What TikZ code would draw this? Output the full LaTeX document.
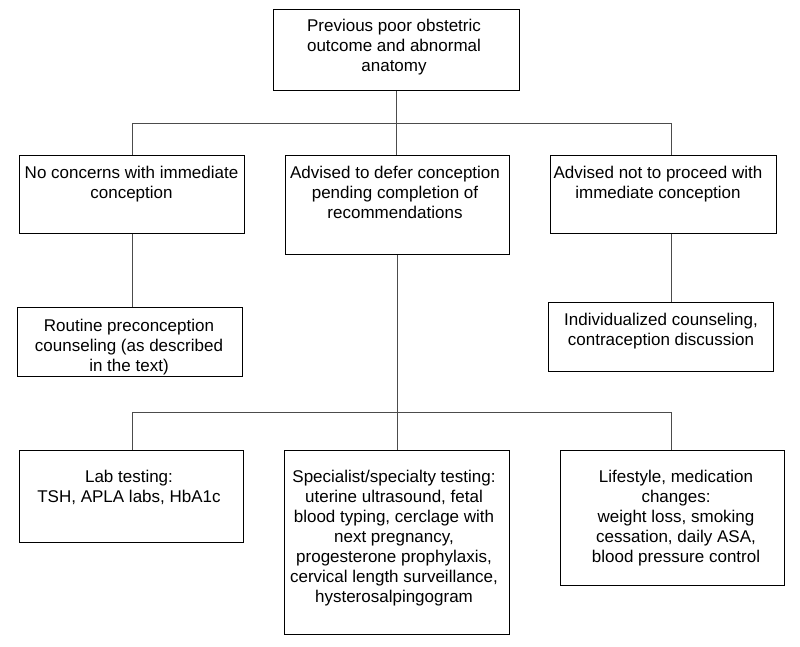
\documentclass[tikz,border=0pt]{standalone}
\usepackage{fontspec}
\setmainfont{Liberation Sans}
\begin{document}
\begin{tikzpicture}[x=1pt,y=-1pt,
  box/.style={draw=black,line width=1.4pt,inner sep=0pt,anchor=north west,fill=none},
  txt/.style={align=center,inner sep=0pt,anchor=north,font=\fontsize{17}{20}\selectfont},
  conn/.style={draw=black!70,line width=1pt}]
\useasboundingbox (0,0) rectangle (800,646);
% boxes
\node[box,minimum width=246pt,minimum height=81pt] (top) at (273,9) {};
\node[box,minimum width=225pt,minimum height=78pt] (b1) at (19,155) {};
\node[box,minimum width=224pt,minimum height=99pt] (b2) at (285,155) {};
\node[box,minimum width=226pt,minimum height=78pt] (b3) at (550,155) {};
\node[box,minimum width=225pt,minimum height=69pt] (r1) at (17,307) {};
\node[box,minimum width=225pt,minimum height=69pt] (r3) at (548,302) {};
\node[box,minimum width=224pt,minimum height=92pt] (c1) at (19,450) {};
\node[box,minimum width=225pt,minimum height=184pt] (c2) at (284,450) {};
\node[box,minimum width=224pt,minimum height=135pt] (c3) at (560,450) {};
% texts
\node[txt] (ttop) at (394,18.7) {Previous poor obstetric\\outcome and abnormal\\anatomy};
\node[txt] (tb1) at (131.5,165.7) {No concerns with immediate\\conception};
\node[txt] (tb2) at (395,165.7) {Advised to defer conception\\pending completion of\\recommendations};
\node[txt] (tb3) at (658,165.7) {Advised not to proceed with\\immediate conception};
\node[txt] (tr1) at (129,318.7) {Routine preconception\\counseling (as described\\in the text)};
\node[txt] (tr3) at (661,312.7) {Individualized counseling,\\contraception discussion};
\node[txt] (tc1) at (129,469.7) {Lab testing:\\TSH, APLA labs, HbA1c};
\node[txt] (tc2) at (394,469.7) {Specialist/specialty testing:\\uterine ultrasound, fetal\\blood typing, cerclage with\\next pregnancy,\\progesterone prophylaxis,\\cervical length surveillance,\\hysterosalpingogram};
\node[txt] (tc3) at (676,469.7) {Lifestyle, medication\\changes:\\weight loss, smoking\\cessation, daily ASA,\\blood pressure control};
% connectors
\coordinate (hL) at (132,123);
\coordinate (hR) at (671,123);
\coordinate (gL) at (132,412);
\coordinate (gR) at (671,412);
\draw[conn] (hL) -- (hR);
\draw[conn] (top.south) -- (top.south |- b2.north);
\draw[conn] (hL) -- (hL |- b1.north);
\draw[conn] (hR) -- (hR |- b3.north);
\draw[conn] (hL |- b1.south) -- (hL |- r1.north);
\draw[conn] (hR |- b3.south) -- (hR |- r3.north);
\draw[conn] (b2.south) -- (b2.south |- c2.north);
\draw[conn] (gL) -- (gR);
\draw[conn] (gL) -- (gL |- c1.north);
\draw[conn] (gR) -- (gR |- c3.north);
\end{tikzpicture}
\end{document}
